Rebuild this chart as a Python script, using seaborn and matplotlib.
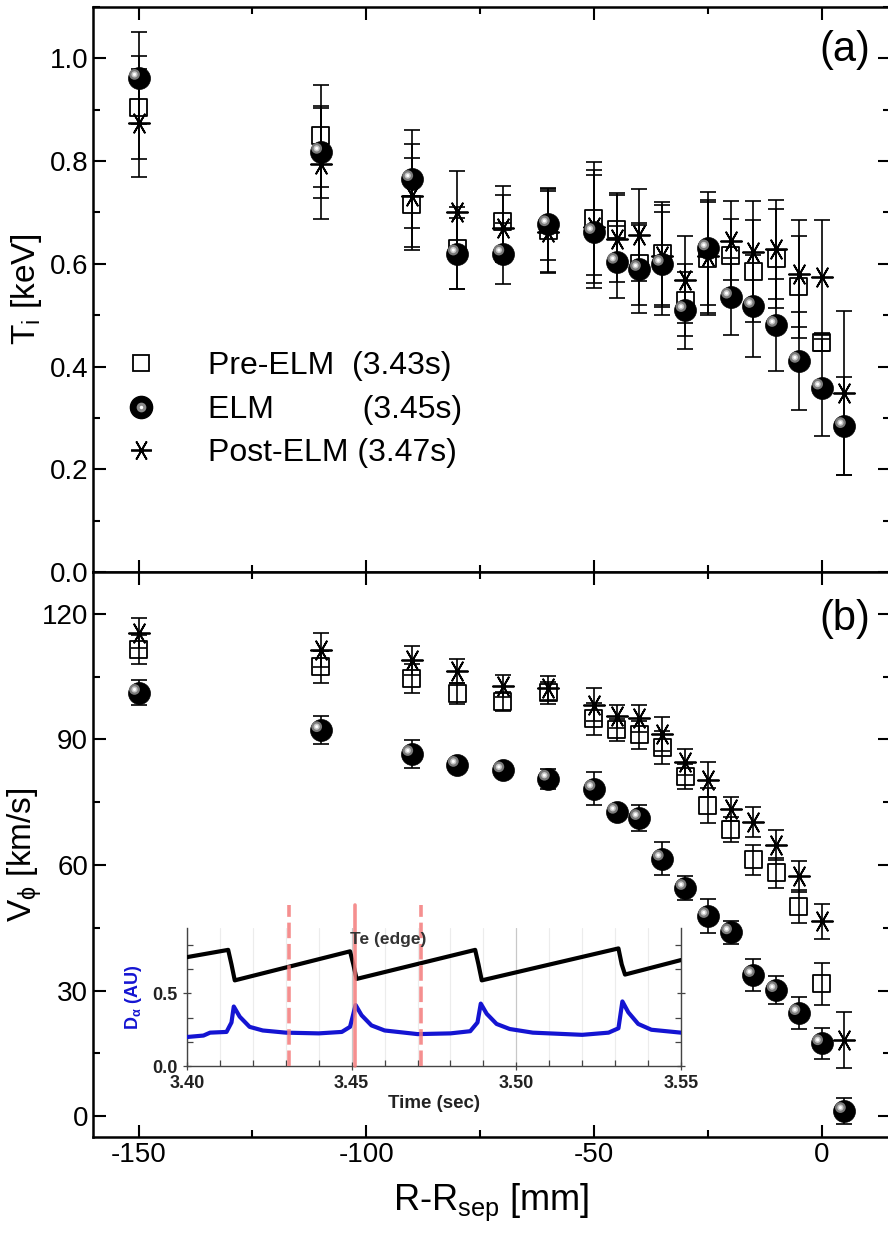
import numpy as np
import seaborn as sns
import matplotlib.pyplot as plt
from matplotlib.lines import Line2D
from matplotlib.legend_handler import HandlerTuple
from matplotlib.ticker import MultipleLocator, AutoMinorLocator
from matplotlib.transforms import offset_copy

# radial positions R-Rsep [mm]
r_all = [-150, -110, -90, -80, -70, -60, -50, -45, -40, -35, -30, -25, -20, -15, -10, -5, 0, 5]
r_pre = r_all[:-1]

# (a) ion temperature [keV]
ti_pre = [0.905, 0.849, 0.716, 0.630, 0.682, 0.665, 0.688, 0.667, 0.600, 0.620, 0.529, 0.610, 0.617, 0.586, 0.610, 0.555, 0.446]
ti_pre_err = [0.10, 0.10, 0.09, 0.08, 0.07, 0.08, 0.11, 0.07, 0.08, 0.10, 0.07, 0.11, 0.07, 0.10, 0.097, 0.10, 0.016]
ti_elm = [0.962, 0.818, 0.765, 0.620, 0.620, 0.677, 0.662, 0.604, 0.590, 0.600, 0.510, 0.630, 0.536, 0.518, 0.481, 0.411, 0.359, 0.284]
ti_elm_err = [0.09, 0.09, 0.095, 0.07, 0.06, 0.07, 0.11, 0.07, 0.085, 0.10, 0.075, 0.11, 0.075, 0.10, 0.09, 0.095, 0.094, 0.095]
ti_post = [0.874, 0.795, 0.733, 0.700, 0.669, 0.662, 0.672, 0.649, 0.656, 0.615, 0.569, 0.615, 0.645, 0.623, 0.628, 0.581, 0.575, 0.349]
ti_post_err = [0.105, 0.108, 0.10, 0.08, 0.065, 0.08, 0.11, 0.085, 0.09, 0.10, 0.085, 0.11, 0.077, 0.10, 0.097, 0.104, 0.11, 0.16]

# (b) toroidal rotation [km/s]
vp_pre = [111.5, 107.3, 104.5, 101.0, 99.1, 101.1, 94.9, 92.3, 91.1, 88.0, 81.2, 74.2, 68.4, 61.2, 58.1, 50.1, 31.6]
vp_pre_err = [3.5, 3.8, 3.5, 2.5, 2.2, 2.6, 3.8, 2.6, 3.4, 4.0, 3.0, 4.2, 3.0, 3.6, 3.5, 3.9, 5.0]
vp_elm = [101.1, 92.2, 86.5, 83.9, 82.6, 80.6, 78.2, 72.7, 71.2, 61.5, 54.5, 47.8, 43.9, 33.7, 30.1, 24.6, 17.4, 1.2]
vp_elm_err = [3.0, 3.3, 3.4, 1.2, 1.2, 2.4, 3.9, 1.5, 3.1, 3.9, 2.8, 4.1, 2.7, 3.9, 3.4, 3.8, 3.7, 3.2]
vp_post = [115.5, 111.3, 108.9, 106.3, 102.7, 102.3, 98.3, 95.5, 95.0, 91.3, 84.6, 80.4, 73.4, 70.3, 64.8, 57.3, 46.5, 18.2]
vp_post_err = [3.6, 4.0, 3.5, 2.8, 2.6, 2.8, 4.0, 2.7, 3.2, 4.1, 3.1, 4.2, 2.9, 3.6, 3.5, 3.7, 4.2, 6.6]

# inset: Te(edge) and D-alpha traces (corner points)
te_t = [3.400, 3.405, 3.4125, 3.4135, 3.4145, 3.4495, 3.4505, 3.4515, 3.4875, 3.4885, 3.4895, 3.5310, 3.5320, 3.5330, 3.550]
te_v = [0.75, 0.77, 0.80, 0.70, 0.59, 0.79, 0.70, 0.60, 0.80, 0.70, 0.59, 0.81, 0.70, 0.63, 0.73]
da_t = [3.400, 3.405, 3.407, 3.412, 3.4135, 3.4142, 3.416, 3.419, 3.423, 3.430, 3.440, 3.447, 3.4495, 3.4512,
        3.453, 3.456, 3.460, 3.470, 3.480, 3.486, 3.4882, 3.4892, 3.491, 3.494, 3.498, 3.505, 3.520, 3.528,
        3.5310, 3.5322, 3.534, 3.537, 3.541, 3.550]
da_v = [0.20, 0.21, 0.23, 0.235, 0.30, 0.41, 0.34, 0.27, 0.245, 0.23, 0.225, 0.235, 0.27, 0.42,
        0.35, 0.28, 0.245, 0.22, 0.225, 0.24, 0.30, 0.43, 0.36, 0.29, 0.255, 0.23, 0.215, 0.23,
        0.26, 0.445, 0.37, 0.29, 0.25, 0.23]
t_pre, t_elm, t_post = 3.431, 3.451, 3.471

sns.set_style('ticks')
plt.rcParams['font.family'] = ['Liberation Sans', 'DejaVu Sans']
plt.rcParams['mathtext.default'] = 'regular'
plt.rcParams['axes.unicode_minus'] = False
plt.rcParams['axes.linewidth'] = 1.8
plt.rcParams['text.color'] = 'black'
plt.rcParams['axes.labelcolor'] = 'black'
plt.rcParams['xtick.color'] = 'black'
plt.rcParams['ytick.color'] = 'black'

fig = plt.figure(figsize=(8.88, 12.34), dpi=100)
ax1 = fig.add_axes([0.1047, 0.5365, 0.8975, 0.4578])
ax2 = fig.add_axes([0.1047, 0.0786, 0.8975, 0.4579])

STAR = (6, 2, 90)


def sphere(ax, x, y):
    sns.scatterplot(x=x, y=y, marker='o', s=250, color='black', edgecolor='black', linewidth=0.5, zorder=5, ax=ax)
    hl = offset_copy(ax.transData, fig=fig, x=-4, y=3.5, units='dots')
    sns.scatterplot(x=x, y=y, marker='o', s=60, color='#7a7a7a', edgecolor='none', transform=hl, zorder=6, ax=ax)
    sns.scatterplot(x=x, y=y, marker='o', s=20, color='#c8c8c8', edgecolor='none', transform=hl, zorder=7, ax=ax)
    sns.scatterplot(x=x, y=y, marker='o', s=5, color='white', edgecolor='none', transform=hl, zorder=8, ax=ax)


def panel(ax, pre, pre_e, elm, elm_e, post, post_e):
    for x, y, e in [(r_pre, pre, pre_e), (r_all, elm, elm_e), (r_all, post, post_e)]:
        ax.errorbar(x, y, yerr=e, fmt='none', ecolor='black', elinewidth=1.2, capsize=5.5, capthick=1.2, zorder=2)
    sns.scatterplot(x=r_pre, y=pre, marker='s', s=150, color='black', edgecolor='black', linewidth=1.3, zorder=3, ax=ax)
    ax.collections[-1].set_facecolor('none')
    sns.scatterplot(x=r_all, y=post, marker=STAR, s=230, color='black', linewidth=1.3, zorder=4, ax=ax)
    sphere(ax, r_all, elm)


panel(ax1, ti_pre, ti_pre_err, ti_elm, ti_elm_err, ti_post, ti_post_err)
panel(ax2, vp_pre, vp_pre_err, vp_elm, vp_elm_err, vp_post, vp_post_err)

for ax in (ax1, ax2):
    ax.set_xlim(-160, 15)
    ax.xaxis.set_major_locator(MultipleLocator(50))
    ax.xaxis.set_minor_locator(MultipleLocator(25))
    ax.tick_params(which='both', direction='in', top=True, right=True, width=1.5, labelsize=20,
                   colors='black', labelcolor='black')
    ax.tick_params(which='major', length=9)
    ax.tick_params(which='minor', length=5)
    for s in ax.spines.values():
        s.set_color('black')

ax1.set_ylim(0, 1.1)
ax1.yaxis.set_major_locator(MultipleLocator(0.2))
ax1.yaxis.set_minor_locator(MultipleLocator(0.1))
ax1.yaxis.set_major_formatter(plt.FormatStrFormatter('%.1f'))
ax1.tick_params(labelbottom=False)
ax1.set_ylabel('T$_{i}$ [keV]', fontsize=24)
ax1.yaxis.set_label_coords(-0.061, 0.5)
ax1.text(0.975, 0.924, '(a)', transform=ax1.transAxes, ha='right', va='center', fontsize=30)

ax2.set_ylim(-5, 130)
ax2.yaxis.set_major_locator(MultipleLocator(30))
ax2.yaxis.set_minor_locator(MultipleLocator(15))
ax2.set_ylabel(r'V$_{\phi}$ [km/s]', fontsize=24)
ax2.yaxis.set_label_coords(-0.061, 0.5)
ax2.set_xlabel('R-R$_{sep}$ [mm]', fontsize=26, labelpad=10)
ax2.text(0.975, 0.917, '(b)', transform=ax2.transAxes, ha='right', va='center', fontsize=30)

# legend
h_sq = Line2D([], [], ls='none', marker='s', ms=12, mfc='none', mec='black', mew=1.3)
h_sp = (Line2D([], [], ls='none', marker='o', ms=16, mfc='black', mec='black'),
        Line2D([], [], ls='none', marker='o', ms=7, mfc='#8a8a8a', mec='none'),
        Line2D([], [], ls='none', marker='o', ms=2.5, mfc='white', mec='none'))
h_st = Line2D([], [], ls='none', marker=STAR, ms=15, mec='black', mew=1.3)
ax1.legend([h_sq, h_sp, h_st],
           ['Pre-ELM  (3.43s)', 'ELM          (3.45s)', 'Post-ELM (3.47s)'],
           handler_map={tuple: HandlerTuple(ndivide=1)},
           loc='upper left', bbox_to_anchor=(0.0, 0.43), frameon=False, fontsize=23,
           handlelength=1.6, handletextpad=1.3, labelspacing=0.42, borderaxespad=0.3)

# inset
axin = fig.add_axes([0.2106, 0.1361, 0.5563, 0.1118])
axin.set_facecolor('white')
sns.lineplot(x=te_t, y=te_v, color='black', lw=3, estimator=None, sort=False, ax=axin, zorder=3)
sns.lineplot(x=da_t, y=da_v, color='#1414d2', lw=3, estimator=None, sort=False, ax=axin, zorder=3)
axin.set_xlim(3.40, 3.55)
axin.set_ylim(0, 0.95)
axin.xaxis.set_major_locator(MultipleLocator(0.05))
axin.xaxis.set_minor_locator(MultipleLocator(0.01))
axin.xaxis.set_major_formatter(plt.FormatStrFormatter('%.2f'))
axin.yaxis.set_major_locator(MultipleLocator(0.5))
axin.yaxis.set_minor_locator(AutoMinorLocator(3))
axin.yaxis.set_major_formatter(plt.FormatStrFormatter('%.1f'))
axin.grid(axis='x', which='minor', color='#ececec', lw=0.8)
axin.grid(axis='x', which='major', color='#c8c8c8', lw=0.9)
axin.spines['top'].set_visible(False)
for s in ('left', 'bottom', 'right'):
    axin.spines[s].set_color('#444444')
    axin.spines[s].set_linewidth(1.0)
axin.tick_params(which='both', right=True, colors='#444444', width=0.9, labelsize=13, labelcolor='#222222')
axin.tick_params(which='major', direction='inout', length=6)
axin.tick_params(which='minor', direction='in', length=4)
for lab in axin.get_xticklabels() + axin.get_yticklabels():
    lab.set_fontweight('bold')
axin.set_xlabel('Time (sec)', fontsize=13.5, fontweight='bold', color='#222222', labelpad=2)
axin.set_ylabel(r'D$_{\alpha}$ (AU)', fontsize=13, fontweight='bold', color='#1414d2', labelpad=6)
axin.text(3.4495, 0.87, 'Te (edge)', fontsize=12.5, fontweight='bold', color='#333333', va='center', zorder=5)
for t, ls in [(t_pre, (0, (4.3, 1.6))), (t_elm, '-'), (t_post, (0, (4.3, 1.6)))]:
    axin.axvline(t, ymin=0, ymax=1.17, color='#f47c7c', alpha=0.85, lw=2.6, ls=ls, clip_on=False, zorder=4)

fig.savefig('out.png', dpi=100)
